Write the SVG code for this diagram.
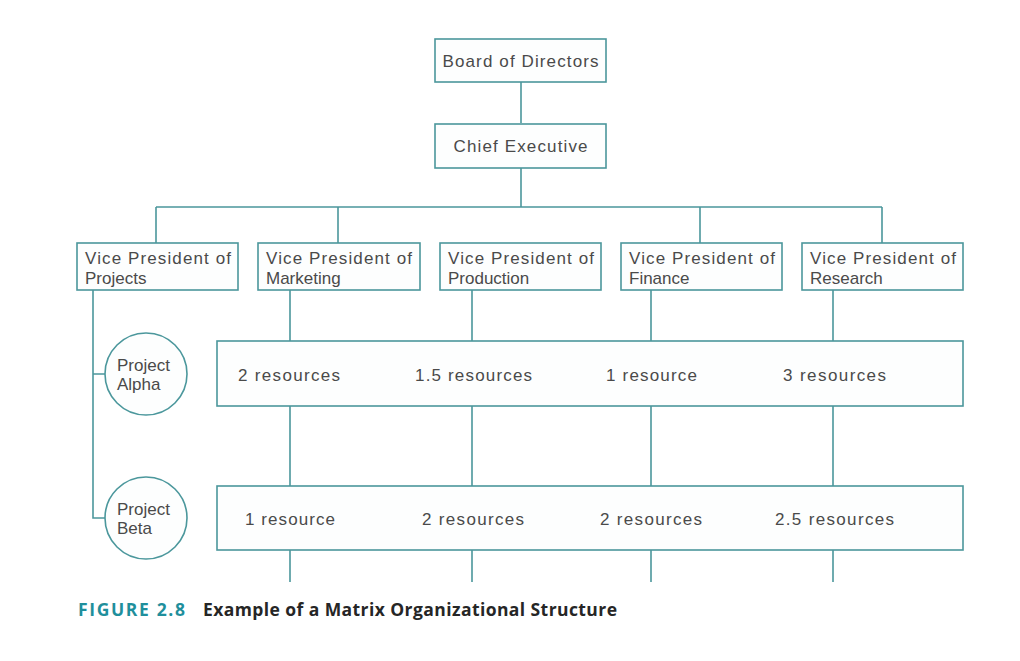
<svg xmlns="http://www.w3.org/2000/svg" width="1020" height="661" viewBox="0 0 1020 661">
<style>
.box{fill:#fdfefe;stroke:#4b979c;stroke-width:1.6}
.ln{fill:none;stroke:#4b979c;stroke-width:1.6}
.t{font-family:"Liberation Sans",Arial,sans-serif;font-size:17px;fill:#4a4a4a}
.cap{font-family:"Open Sans","Liberation Sans",sans-serif;font-size:17.5px;font-weight:bold}
</style>
<rect width="1020" height="661" fill="#ffffff"/>
<g id="connectors">
<path class="ln" d="M521 82V123M521 168V207M156 207H882M156 207V243M338 207V243M700 207V243M882 207V243"/>
<path class="ln" d="M93 290V518H105M93 374H105"/>
<path class="ln" d="M290 290V341M290 406V486M290 550V582"/>
<path class="ln" d="M472 290V341M472 406V486M472 550V582"/>
<path class="ln" d="M651 290V341M651 406V486M651 550V582"/>
<path class="ln" d="M833 290V341M833 406V486M833 550V582"/>
</g>
<g id="board"><rect class="box" x="435" y="39" width="171" height="43"/><text class="t" x="520.5" y="67" text-anchor="middle" textLength="156">Board of Directors</text></g>
<g id="ceo"><rect class="box" x="435" y="124" width="171" height="44"/><text class="t" x="520.5" y="152" text-anchor="middle" textLength="134">Chief Executive</text></g>
<g id="vp-projects"><rect class="box" x="77" y="243" width="161" height="47"/><text class="t" x="85" y="264" textLength="146">Vice President of</text><text class="t" x="85" y="284">Projects</text></g>
<g id="vp-marketing"><rect class="box" x="258" y="243" width="162" height="47"/><text class="t" x="266" y="264" textLength="146">Vice President of</text><text class="t" x="266" y="284">Marketing</text></g>
<g id="vp-production"><rect class="box" x="440" y="243" width="161" height="47"/><text class="t" x="448" y="264" textLength="146">Vice President of</text><text class="t" x="448" y="284">Production</text></g>
<g id="vp-finance"><rect class="box" x="621" y="243" width="161" height="47"/><text class="t" x="629" y="264" textLength="146">Vice President of</text><text class="t" x="629" y="284">Finance</text></g>
<g id="vp-research"><rect class="box" x="802" y="243" width="161" height="47"/><text class="t" x="810" y="264" textLength="146">Vice President of</text><text class="t" x="810" y="284">Research</text></g>
<g id="project-alpha"><circle class="box" cx="146" cy="374" r="41"/><text class="t" x="117" y="371">Project</text><text class="t" x="117" y="390">Alpha</text></g>
<g id="project-beta"><circle class="box" cx="146" cy="518" r="41"/><text class="t" x="117" y="515">Project</text><text class="t" x="117" y="534">Beta</text></g>
<g id="alpha-row"><rect class="box" x="217" y="341" width="746" height="65"/>
<text class="t" x="238" y="381" textLength="102">2 resources</text>
<text class="t" x="415" y="381" textLength="117">1.5 resources</text>
<text class="t" x="606" y="381" textLength="91">1 resource</text>
<text class="t" x="783" y="381" textLength="103">3 resources</text></g>
<g id="beta-row"><rect class="box" x="217" y="486" width="746" height="64"/>
<text class="t" x="245" y="525" textLength="90">1 resource</text>
<text class="t" x="422" y="525" textLength="102">2 resources</text>
<text class="t" x="600" y="525" textLength="102">2 resources</text>
<text class="t" x="775" y="525" textLength="119">2.5 resources</text></g>
<g id="caption">
<text class="cap" x="78" y="616" fill="#1f8f9c" textLength="107">FIGURE 2.8</text>
<text class="cap" x="203" y="616" fill="#262626" textLength="414">Example of a Matrix Organizational Structure</text>
</g>
</svg>
